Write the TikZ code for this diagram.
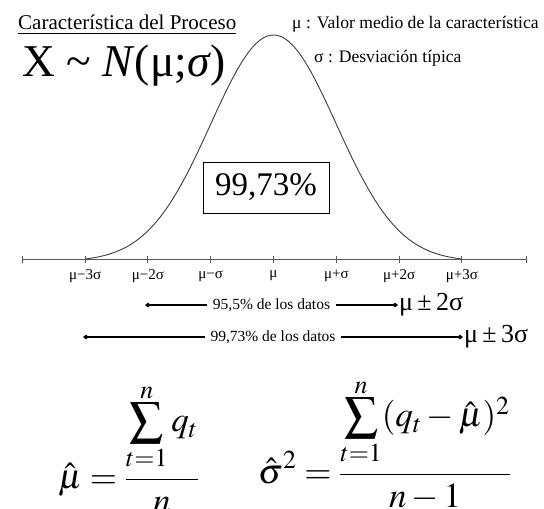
\documentclass[tikz,border=0pt]{standalone}
\usepackage{amsmath}
\usepackage{mathptmx}
\usepackage{fontspec}
\setmainfont{Liberation Serif}
\usetikzlibrary{arrows.meta,positioning}
\definecolor{curvegray}{HTML}{3C3C3C}
\definecolor{axisgray}{HTML}{5A5A5A}
\newcommand{\bigsumop}{\mathop{\vcenter{\hbox{\scalebox{0.95}{$\displaystyle\sum$}}}}\limits}
\newcommand{\sumlims}{_{\raisebox{4pt}{$\scriptstyle t=1$}}^{\raisebox{-7pt}{$\scriptstyle n$}}}

\tikzset{
  rangeline/.style={line width=1.2pt,{Diamond[length=6pt,width=4.5pt]}-{Diamond[length=6pt,width=4.5pt]}},
  rangetext/.style={fill=white,inner xsep=6pt,inner ysep=1pt,font=\fontsize{15.5}{18}\selectfont},
  rangesum/.style={anchor=west,inner sep=1pt,font=\fontsize{26}{30}\selectfont},
  ticklabel/.style={inner sep=0pt,font=\fontsize{15}{17}\selectfont},
  axistick/.style={axisgray,line width=0.9pt},
  basetext/.style={anchor=base west,inner sep=0pt}
}

\begin{document}
\begin{tikzpicture}[x=1pt,y=-1pt]
  \useasboundingbox (0,0) rectangle (544,509);

  % encabezado
  \node[basetext,font=\fontsize{21}{24}\selectfont] (title) at (18,29) {Característica del Proceso};
  \draw[line width=0.8pt] ([yshift=-4.5pt]title.base west) -- ([yshift=-4.5pt]title.base east);
  \node[basetext,font=\fontsize{45.5}{50}\selectfont] (dist) at (22,76) {X \char`\~{} \textit{N}(μ;\textit{σ})};
  \node[basetext,font=\fontsize{17.6}{21}\selectfont] (mudef) at (292,28) {μ : Valor medio de la característica};
  \node[basetext,font=\fontsize{17.6}{21}\selectfont] (sigdef) at (314,62) {σ : Desviación típica};

  % eje y campana
  \coordinate (axisL) at (22,259);
  \coordinate (axisR) at (526,259);
  \draw[axistick] (axisL) -- (axisR);
  \draw[axistick] ([yshift=3.5pt]axisL) -- ([yshift=-3.5pt]axisL);
  \draw[axistick] ([yshift=3.5pt]axisR) -- ([yshift=-3.5pt]axisR);
  \foreach \i/\lab in {1/{μ−3σ},2/{μ−2σ},3/{μ−σ},4/{μ},5/{μ+σ},6/{μ+2σ},7/{μ+3σ}} {
    \pgfmathsetmacro\tx{273.5+62.8*(\i-4)}
    \coordinate (t\i) at (\tx,259);
    \draw[axistick] ([yshift=3.5pt]t\i) -- ([yshift=-3.5pt]t\i);
    \node[ticklabel] (lab\i) at (\tx,276) {\lab};
  }
  \draw[curvegray,line width=0.9pt] plot[domain=-3:3,samples=121]
    ({273.5+62.8*\x},{259-224*(exp(-0.5*(\x)*(\x))-0.011109)/0.988891});

  \node[draw,line width=0.8pt,minimum width=126pt,minimum height=51pt,
        font=\fontsize{33}{36}\selectfont] (pct) at (266,187.5) {99,73\%};

  % intervalos
  \coordinate (r2L) at (145,305);
  \coordinate (r2R) at (398,305);
  \draw[rangeline] (r2L) -- node[rangetext] (d2) {95,5\% de los datos} (r2R);
  \node[rangesum] (m2) at (r2R) {μ\,±\,2σ};
  \coordinate (r3L) at (83,337);
  \coordinate (r3R) at (463,337);
  \draw[rangeline] (r3L) -- node[rangetext] (d3) {99,73\% de los datos} (r3R);
  \node[rangesum] (m3) at (r3R) {μ\,±\,3σ};

  % estimadores
  \node[basetext,font=\fontsize{35}{40}\selectfont] (muhat) at (58,488)
    {$\displaystyle\hat{\mu}=\frac{\bigsumop\sumlims q_t}{n}$};
  \node[basetext,font=\fontsize{35}{40}\selectfont] (sighat) at (258,483)
    {$\displaystyle\hat{\sigma}^2=\frac{\bigsumop\sumlims(q_t-\hat{\mu})^2}{n-1}$};
\end{tikzpicture}
\end{document}
